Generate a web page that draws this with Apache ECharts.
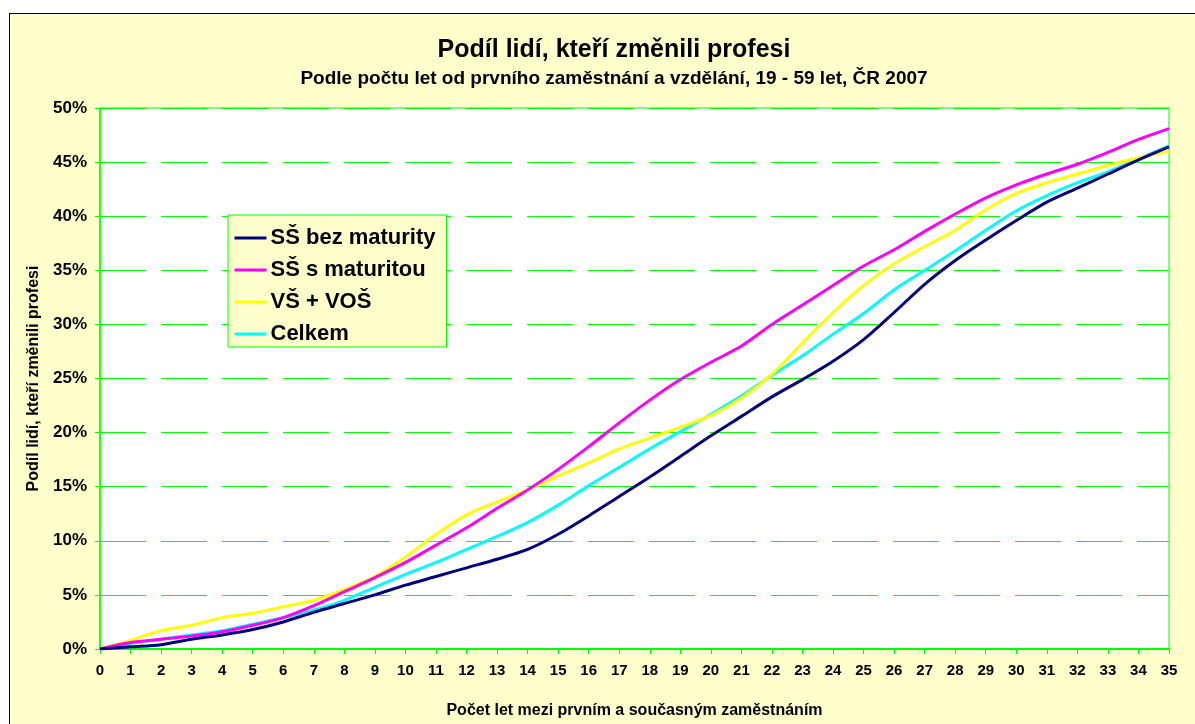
<!DOCTYPE html>
<html>
<head>
<meta charset="utf-8">
<script src="https://cdn.jsdelivr.net/npm/echarts@6/dist/echarts.min.js"></script>
<style>
  html, body { margin: 0; padding: 0; background: #ffffff; width: 1195px; height: 724px; overflow: hidden; }
  #frame { position: absolute; left: 9px; top: 13px; width: 1200px; height: 720px;
           background: #FFFFCC; border-left: 1px solid #000; border-top: 1px solid #000; }
  #chart { position: absolute; left: 0; top: 0; width: 1195px; height: 724px; }
</style>
</head>
<body>
<div id="frame"></div>
<div id="chart"></div>
<script>
// Years between first and current job
const years = Array.from({ length: 36 }, (_, i) => String(i));

// Share of people who changed profession, % (by education)
const bezMaturity = [0, 0.2, 0.4, 0.9, 1.3, 1.8, 2.5, 3.4, 4.2, 5.0, 5.9, 6.7, 7.5, 8.3, 9.2, 10.6, 12.3, 14.1, 15.9, 17.8, 19.7, 21.5, 23.3, 24.9, 26.6, 28.6, 31.1, 33.7, 35.9, 37.8, 39.6, 41.3, 42.6, 43.9, 45.2, 46.4];
const sMaturitou = [0, 0.6, 0.9, 1.2, 1.6, 2.2, 2.9, 4.0, 5.3, 6.6, 8.0, 9.6, 11.2, 13.0, 14.7, 16.6, 18.7, 20.9, 23.0, 24.9, 26.5, 28.0, 30.0, 31.8, 33.6, 35.4, 36.9, 38.6, 40.2, 41.7, 42.9, 43.9, 44.8, 45.9, 47.1, 48.1];
const vsVos = [0, 0.8, 1.7, 2.2, 2.9, 3.3, 3.9, 4.5, 5.5, 6.7, 8.5, 10.6, 12.4, 13.6, 14.7, 16.0, 17.2, 18.5, 19.5, 20.5, 21.6, 23.2, 25.4, 28.3, 31.1, 33.6, 35.6, 37.2, 38.7, 40.6, 42.1, 43.1, 43.9, 44.7, 45.4, 46.0];
const celkem = [0, 0.5, 0.9, 1.3, 1.7, 2.3, 2.9, 3.6, 4.5, 5.7, 6.9, 8.0, 9.2, 10.4, 11.7, 13.3, 15.1, 16.8, 18.5, 20.1, 21.7, 23.4, 25.3, 27.1, 29.1, 31.0, 33.2, 35.0, 36.8, 38.7, 40.5, 41.9, 43.1, 44.1, 45.3, 46.5];

const seriesNames = ['SŠ bez maturity', 'SŠ s maturitou', 'VŠ + VOŠ', 'Celkem'];
const seriesColors = ['#000080', '#FF00FF', '#FFFF00', '#00FFFF'];
const seriesData = [bezMaturity, sMaturitou, vsVos, celkem];

const font = 'Liberation Sans, Arial, sans-serif';
const green = '#00FF00';

const chart = echarts.init(document.getElementById('chart'), null, { renderer: 'canvas', width: 1195, height: 724 });
chart.setOption({
  backgroundColor: 'transparent',
  animation: false,
  textStyle: { fontFamily: font },
  title: {
    text: 'Podíl lidí, kteří změnili profesi',
    subtext: 'Podle počtu let od prvního zaměstnání a vzdělání, 19 - 59 let, ČR 2007',
    left: 609,
    top: 33,
    textAlign: 'center',
    itemGap: 6,
    textStyle: { fontFamily: font, fontSize: 25, fontWeight: 'bold', color: '#000' },
    subtextStyle: { fontFamily: font, fontSize: 19, fontWeight: 'bold', color: '#000' }
  },
  legend: {
    orient: 'vertical',
    left: 228,
    top: 215,
    padding: [12, 11, 2, 5],
    itemGap: 10,
    itemWidth: 32,
    itemHeight: 14,
    backgroundColor: '#FFFFCC',
    borderColor: green,
    borderWidth: 1,
    itemStyle: { opacity: 0 },
    lineStyle: { width: 3 },
    textStyle: { fontFamily: font, fontSize: 22, lineHeight: 22, fontWeight: 'bold', color: '#000', padding: [0, 0, 0, -1] },
    data: seriesNames
  },
  grid: {
    left: 100, top: 108, width: 1069, height: 545,
    show: true,
    backgroundColor: '#ffffff',
    borderColor: green,
    borderWidth: 1
  },
  xAxis: {
    type: 'category',
    data: years,
    boundaryGap: false,
    name: 'Počet let mezi prvním a současným zaměstnáním',
    nameLocation: 'middle',
    nameGap: 54,
    nameTextStyle: { fontFamily: font, fontSize: 16, fontWeight: 'bold', color: '#000' },
    axisLine: { lineStyle: { color: green, width: 2 } },
    axisTick: { show: true, alignWithLabel: true, length: 5, lineStyle: { color: green, width: 1 } },
    axisLabel: { interval: 0, margin: 14, fontFamily: font, fontSize: 15, fontWeight: 'bold', color: '#000' },
    splitLine: { show: false }
  },
  yAxis: {
    type: 'value',
    min: 0, max: 50, interval: 5,
    name: 'Podíl lidí, kteří změnili profesi',
    nameLocation: 'middle',
    nameRotate: 90,
    nameGap: 54,
    nameTextStyle: { fontFamily: font, fontSize: 16, fontWeight: 'bold', color: '#000' },
    axisLine: { show: true, lineStyle: { color: green, width: 1.5 } },
    axisTick: { show: true, length: 5, lineStyle: { color: green, width: 1 } },
    axisLabel: { formatter: '{value}%', margin: 13, fontFamily: font, fontSize: 17, fontWeight: 'bold', color: '#000' },
    splitLine: { show: true, lineStyle: { color: green, width: 1, type: [46, 15] } }
  },
  series: seriesNames.map((name, i) => ({
    name,
    type: 'line',
    data: seriesData[i],
    smooth: 0.3,
    symbol: 'none',
    lineStyle: { color: seriesColors[i], width: 3 },
    itemStyle: { color: seriesColors[i] },
    z: 10 - i
  }))
});
</script>
</body>
</html>
